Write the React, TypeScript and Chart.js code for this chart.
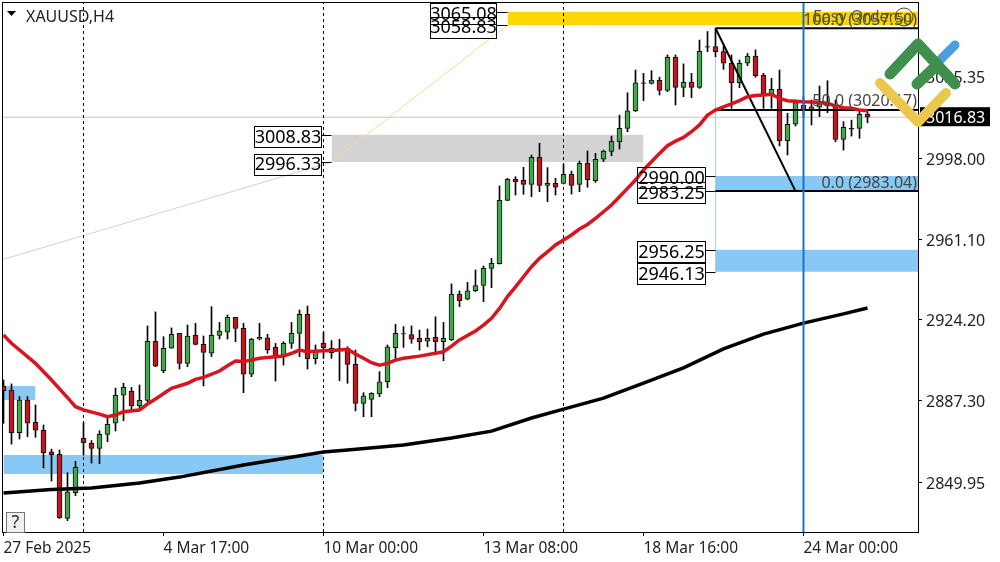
import React, { useEffect, useRef } from "react";
import { Chart, registerables } from "chart.js";

Chart.register(...registerables);

const opens = [
  2893.9, 2892.1, 2872.6, 2887.5, 2877.3, 2873.7, 2863.8, 2862.7, 2833.4, 2845.2,
  2870.0, 2867.7, 2865.4, 2871.8, 2876.9, 2889.7, 2891.5, 2885.0, 2887.4, 2914.4,
  2901.0, 2911.2, 2918.0, 2904.3, 2917.1, 2913.0, 2908.9, 2917.1, 2918.5, 2925.3,
  2920.3, 2899.3, 2915.3, 2916.0, 2911.6, 2907.7, 2913.4, 2918.0, 2926.7, 2906.4,
  2913.4, 2911.2, 2910.4, 2911.2, 2903.8, 2886.0, 2887.8, 2890.3, 2895.9, 2911.5,
  2917.7, 2917.4, 2915.7, 2914.4, 2916.2, 2914.2, 2915.0, 2936.0, 2933.6, 2937.5,
  2939.9, 2947.7, 2949.9, 2978.8, 2988.4, 2988.0, 2986.1, 2998.5, 2985.7, 2986.6,
  2986.6, 2990.7, 2986.1, 2995.7, 2987.8, 2997.6, 3001.2, 3005.6, 3011.7, 3019.8,
  3032.3, 3032.3, 3033.7, 3029.1, 3044.2, 3030.5, 3032.8, 3030.5, 3048.8, 3049.1,
  3046.8, 3041.5, 3032.6, 3041.5, 3044.8, 3036.0, 3027.4, 3029.6, 3006.1, 3013.7,
  3022.3, 3020.4, 3021.4, 3023.8, 3022.0, 3006.7, 3011.4, 3011.7, 3018.1,
];
const closes = [
  2891.8, 2872.6, 2887.5, 2876.9, 2873.7, 2863.5, 2862.5, 2833.8, 2845.6, 2856.8,
  2868.0, 2865.4, 2871.8, 2876.4, 2889.7, 2893.3, 2885.0, 2887.4, 2914.4, 2903.0,
  2911.2, 2917.6, 2904.3, 2916.8, 2913.0, 2909.3, 2917.1, 2919.0, 2925.3, 2920.3,
  2899.3, 2915.3, 2916.2, 2910.5, 2907.7, 2913.4, 2918.0, 2926.7, 2906.4, 2910.4,
  2911.5, 2909.2, 2911.0, 2903.8, 2886.0, 2889.4, 2890.6, 2895.9, 2911.8, 2918.0,
  2917.9, 2915.3, 2914.2, 2915.7, 2914.2, 2915.7, 2936.0, 2933.0, 2937.5, 2939.9,
  2947.7, 2950.0, 2978.8, 2988.4, 2987.4, 2986.1, 2998.5, 2985.7, 2986.6, 2984.8,
  2990.7, 2985.7, 2995.7, 2988.3, 2997.6, 3001.4, 3005.8, 3011.7, 3019.8, 3032.6,
  3032.6, 3033.8, 3029.1, 3044.2, 3030.5, 3032.8, 3030.5, 3046.9, 3049.1, 3046.8,
  3041.5, 3032.6, 3041.5, 3044.8, 3035.7, 3027.4, 3029.6, 3006.1, 3013.6, 3023.5,
  3020.4, 3021.6, 3023.5, 3022.0, 3006.7, 3012.2, 3011.7, 3018.1, 3016.83,
];
const highs = [
  2896.7, 2894.9, 2889.1, 2889.1, 2885.3, 2876.1, 2865.1, 2864.7, 2854.3, 2859.5,
  2877.2, 2869.0, 2873.5, 2879.9, 2893.0, 2895.2, 2893.3, 2894.4, 2921.4, 2927.8,
  2916.5, 2920.5, 2918.0, 2921.8, 2922.6, 2916.8, 2930.2, 2923.0, 2926.4, 2925.3,
  2922.6, 2915.7, 2922.6, 2917.6, 2913.4, 2914.2, 2923.0, 2928.7, 2930.5, 2912.7,
  2918.5, 2914.7, 2915.3, 2911.9, 2910.4, 2890.9, 2890.9, 2900.5, 2912.7, 2922.1,
  2921.1, 2921.4, 2919.5, 2920.0, 2925.6, 2923.0, 2940.6, 2937.4, 2941.3, 2947.0,
  2948.8, 2952.3, 2985.4, 2988.9, 2989.6, 2993.9, 2999.5, 3004.9, 2993.8, 2988.9,
  2995.4, 2992.2, 2996.8, 3001.4, 3000.3, 3001.8, 3008.2, 3017.8, 3028.0, 3038.4,
  3036.9, 3038.1, 3035.1, 3045.3, 3045.3, 3041.2, 3036.9, 3052.1, 3056.0, 3057.5,
  3049.1, 3045.3, 3043.0, 3046.0, 3047.6, 3036.9, 3034.6, 3038.4, 3018.6, 3024.7,
  3026.2, 3024.7, 3031.1, 3033.5, 3024.7, 3014.8, 3015.5, 3020.1, 3019.4,
];
const lows = [
  2876.9, 2867.4, 2869.7, 2870.8, 2870.5, 2856.5, 2850.5, 2833.4, 2832.4, 2843.8,
  2862.4, 2858.7, 2858.4, 2868.5, 2873.4, 2878.1, 2883.0, 2883.0, 2886.8, 2902.8,
  2900.0, 2911.2, 2901.7, 2902.8, 2912.7, 2894.0, 2907.4, 2915.4, 2915.4, 2914.2,
  2890.9, 2898.2, 2915.0, 2908.9, 2896.2, 2903.5, 2911.2, 2907.4, 2901.7, 2904.0,
  2906.6, 2906.6, 2896.4, 2895.2, 2882.6, 2879.9, 2879.9, 2889.1, 2893.2, 2905.8,
  2911.6, 2913.5, 2910.4, 2911.9, 2909.6, 2905.5, 2914.7, 2930.2, 2933.3, 2937.1,
  2932.5, 2938.9, 2949.7, 2978.7, 2981.3, 2981.6, 2980.5, 2982.8, 2978.2, 2981.3,
  2986.3, 2981.7, 2982.8, 2984.8, 2987.0, 2996.5, 2999.2, 3002.3, 3010.2, 3019.4,
  3024.4, 3032.0, 3027.0, 3028.5, 3022.4, 3026.2, 3025.8, 3030.0, 3046.8, 3044.5,
  3038.7, 3020.9, 3030.3, 3040.4, 3035.1, 3020.9, 3020.9, 3003.7, 2999.6, 3012.8,
  3016.8, 3013.3, 3017.1, 3018.9, 3005.6, 3001.8, 3008.2, 3007.2, 3014.3,
];

const redMaIndex = [
  0, 1, 2, 4, 6, 8, 9, 10, 12, 13, 14, 15, 17, 18, 19, 21, 23, 24, 25, 27, 28, 29, 30, 31, 32, 33, 35, 36, 37, 38, 40,
  42, 43, 44, 45, 46, 47, 48, 49, 50, 52, 54, 55, 56, 57, 59, 60, 61, 62, 63, 64, 65, 66, 67, 68, 69, 70, 71, 72, 73,
  74, 75, 76, 77, 78, 79, 80, 81, 82, 83, 84, 85, 86, 87, 88, 89, 90, 91, 92, 93, 94, 95, 96, 97, 98, 99, 100, 101,
  102, 103, 104, 105, 106, 107, 108,
];
const redMaValues = [
  2917.3, 2913.5, 2910.4, 2904.3, 2896.7, 2888.6, 2884.5, 2883.0, 2881.1, 2879.9, 2880.7, 2882.2, 2883.0, 2885.7, 2888.0,
  2892.9, 2895.2, 2897.0, 2897.9, 2900.8, 2903.2, 2905.4, 2905.1, 2905.8, 2906.6, 2907.0, 2907.7, 2908.9, 2910.4, 2909.6, 2910.1,
  2910.4, 2910.7, 2908.6, 2906.6, 2904.6, 2903.5, 2904.3, 2905.8, 2906.6, 2907.6, 2908.9, 2909.6, 2912.2, 2915.0, 2919.1, 2921.8,
  2924.9, 2929.4, 2934.8, 2939.3, 2943.9, 2948.5, 2952.3, 2955.3, 2958.4, 2960.7, 2963.0, 2965.7, 2967.8, 2970.6, 2973.6,
  2976.7, 2980.5, 2984.3, 2988.1, 2992.7, 2996.5, 3000.3, 3003.8, 3005.9, 3007.6, 3010.2, 3013.3, 3017.8, 3020.1, 3021.6, 3022.9,
  3024.4, 3026.2, 3026.8, 3027.0, 3027.3, 3025.4, 3024.4, 3024.1, 3023.9, 3023.8, 3023.6, 3023.2, 3021.9, 3021.2, 3020.9, 3020.1, 3019.8,
];
const blackMaIndex = [0, 6, 11, 17, 22, 30, 40, 43, 50, 56, 61, 66, 70, 75, 80, 85, 90, 95, 100, 105, 108];
const blackMaValues = [
  2845.0, 2846.6, 2847.3, 2849.6, 2852.3, 2857.8, 2863.8, 2864.7, 2867.0, 2870.2, 2873.3, 2879.3, 2883.4, 2888.4, 2895.3,
  2902.2, 2910.9, 2917.7, 2922.7, 2926.9, 2929.6,
];

const xTickIndex = [0, 20, 40, 60, 80, 100];
const xTickLabels = ["27 Feb 2025", "4 Mar 17:00", "10 Mar 00:00", "13 Mar 08:00", "18 Mar 16:00", "24 Mar 00:00"];
const yTickValues = [2849.95, 2887.3, 2924.2, 2961.1, 2998.0, 3035.35];

const lastPrice = 3016.83;
const separatorIndex = [10, 40, 70];
const markerIndex = 100;

// zone rows: start index, end index, top price, bottom price
const zoneRows = [
  [63, 115, 3065.08, 3058.83],
  [41, 80, 3008.83, 2996.33],
  [89, 115, 2990.0, 2983.25],
  [89, 115, 2956.25, 2946.13],
  [0, 40, 2862.4, 2853.7],
  [0, 4, 2894.0, 2887.5],
];
const zoneColors = ["#ffd700", "#d3d3d3", "#87c8f5", "#87c8f5", "#87c8f5", "#87c8f5"];

const fibStartIndex = 89;
const fibLevels = [3057.5, 3020.17, 2983.04];
const fibNames = ["100.0 (3057.50)", "50.0 (3020.17)", "0.0 (2983.04)"];
const fibLowIndex = 99;

const yMin = 2827.2;
const yMax = 3069.5;

const FONT = '"Noto Sans", sans-serif';

const overlayPlugin = {
  id: "overlay",
  afterDraw(chart: any) {
    const { ctx, scales } = chart;
    const x = scales.x;
    const y = scales.y;
    ctx.save();

    // frame
    ctx.strokeStyle = "#000";
    ctx.lineWidth = 1;
    ctx.strokeRect(2.5, 2.5, 916, 530);

    // header
    ctx.fillStyle = "#000";
    ctx.beginPath();
    ctx.moveTo(7, 11);
    ctx.lineTo(16, 11);
    ctx.lineTo(11.5, 16);
    ctx.closePath();
    ctx.fill();
    ctx.fillStyle = "#222";
    ctx.font = `16px ${FONT}`;
    ctx.textAlign = "left";
    ctx.textBaseline = "middle";
    ctx.fillText("XAUUSD,H4", 26, 17);

    // fibo and panel texts
    ctx.textAlign = "right";
    ctx.font = `16px ${FONT}`;
    ctx.fillStyle = "#45453f";
    fibNames.forEach((t, i) => {
      ctx.fillText(t, 917, y.getPixelForValue(fibLevels[i]) - 8);
    });
    ctx.textAlign = "left";
    ctx.fillStyle = "#555";
    ctx.fillText("Easy Order", 813, 17);
    ctx.strokeStyle = "#444";
    ctx.beginPath();
    ctx.arc(904, 17, 9, 0, Math.PI * 2);
    ctx.stroke();
    ctx.textAlign = "center";
    ctx.font = `13px ${FONT}`;
    ctx.fillText("50", 904, 18);

    // price tags with connector ticks (transparent boxes)
    const tag = (value: number, zoneStart: number, left: number, right: number) => {
      const vy = y.getPixelForValue(value);
      const cy = vy + 2;
      ctx.strokeStyle = "#000";
      ctx.lineWidth = 1;
      ctx.beginPath();
      ctx.moveTo(right, Math.round(vy) + 0.5);
      ctx.lineTo(x.getPixelForValue(zoneStart), Math.round(vy) + 0.5);
      ctx.stroke();
      ctx.strokeRect(left + 0.5, Math.round(cy - 10.5) + 0.5, right - left - 1, 21);
      ctx.fillStyle = "#000";
      ctx.font = `18px ${FONT}`;
      ctx.textAlign = "center";
      ctx.textBaseline = "middle";
      ctx.fillText(value.toFixed(2), (left + right) / 2, cy + 1);
    };
    tag(zoneRows[0][2], 63, 430, 497);
    tag(zoneRows[0][3], 63, 430, 497);
    tag(zoneRows[1][2], 41, 254, 322);
    tag(zoneRows[1][3], 41, 254, 322);
    tag(zoneRows[2][2], 89, 637, 706);
    tag(zoneRows[2][3], 89, 637, 706);
    tag(zoneRows[3][2], 89, 637, 706);
    tag(zoneRows[3][3], 89, 637, 706);

    // "?" button
    ctx.fillStyle = "#f0f0f0";
    ctx.strokeStyle = "#777";
    ctx.fillRect(6, 512, 19, 20);
    ctx.strokeRect(6.5, 512.5, 18, 20);
    ctx.fillStyle = "#333";
    ctx.font = `18px ${FONT}`;
    ctx.textAlign = "center";
    ctx.fillText("?", 15.5, 523);

    // last price tag
    const py = y.getPixelForValue(lastPrice);
    ctx.fillStyle = "#000";
    ctx.fillRect(920, py - 10, 70, 19);
    ctx.fillStyle = "#fff";
    ctx.font = `16px ${FONT}`;
    ctx.textAlign = "left";
    ctx.fillText(lastPrice.toFixed(2), 926, py + 1);

    // watermark logo
    ctx.lineCap = "round";
    ctx.lineJoin = "round";
    ctx.lineWidth = 9;
    ctx.strokeStyle = "#4a9fe0";
    ctx.beginPath();
    ctx.moveTo(937, 63);
    ctx.lineTo(955, 45);
    ctx.stroke();
    ctx.lineWidth = 10;
    ctx.strokeStyle = "#ecc74f";
    ctx.beginPath();
    ctx.moveTo(880, 83);
    ctx.lineTo(918, 122);
    ctx.lineTo(946, 93);
    ctx.stroke();
    ctx.lineWidth = 11;
    ctx.strokeStyle = "#3f8f4f";
    ctx.beginPath();
    ctx.moveTo(890, 74);
    ctx.lineTo(918, 44);
    ctx.lineTo(955, 84);
    ctx.stroke();
    ctx.beginPath();
    ctx.moveTo(917, 84);
    ctx.lineTo(935, 67);
    ctx.stroke();

    ctx.restore();
  },
};

export default function App() {
  const ref = useRef<HTMLCanvasElement>(null);

  useEffect(() => {
    if (!ref.current) return;
    const index = opens.map((_, i) => i);
    const line = (data: any[], color: string, width: number, order: number, extra: any = {}) => ({
      type: "line",
      data,
      borderColor: color,
      backgroundColor: color,
      borderWidth: width,
      pointRadius: 0,
      tension: 0,
      fill: false,
      order,
      ...extra,
    });

    const zoneSets = zoneRows.map((z, i) =>
      line(
        [
          { x: z[0], y: z[2] },
          { x: z[1], y: z[2] },
        ],
        zoneColors[i],
        0,
        30,
        { fill: { value: z[3] }, backgroundColor: zoneColors[i] }
      )
    );

    const chart = new Chart(ref.current, {
      type: "bar",
      data: {
        datasets: [
          ...zoneSets,
          line(
            [
              { x: -1, y: lastPrice },
              { x: 115, y: lastPrice },
            ],
            "#c4c4c4",
            1,
            29
          ),
          line(
            [
              { x: 0, y: 2951.9 },
              { x: 41, y: zoneRows[1][3] },
            ],
            "#d2d2d2",
            1,
            28
          ),
          line(
            [
              { x: 41, y: zoneRows[1][3] },
              { x: 63, y: zoneRows[0][3] },
            ],
            "#f3dc92",
            1,
            28
          ),
          ...separatorIndex.map((s) =>
            line(
              [
                { x: s, y: yMin },
                { x: s, y: yMax },
              ],
              "#000",
              1,
              27,
              { borderDash: [3, 3] }
            )
          ),
          line(
            [
              { x: fibStartIndex, y: fibLevels[0] },
              { x: fibStartIndex, y: zoneRows[3][3] },
            ],
            "#9fd0ef",
            1,
            26
          ),
          {
            type: "bar",
            label: "wicks",
            data: index.map((i) => ({ x: i, y: [lows[i], highs[i]] })),
            backgroundColor: "#000",
            barThickness: 1,
            grouped: false,
            order: 20,
          },
          {
            type: "bar",
            label: "bodies",
            data: index.map((i) => ({ x: i, y: [opens[i], closes[i]] })),
            backgroundColor: index.map((i) =>
              Math.abs(opens[i] - closes[i]) < 0.5 ? "#222" : closes[i] >= opens[i] ? "#3fa64a" : "#c8141c"
            ),
            borderColor: "#111",
            borderWidth: 1,
            borderSkipped: false,
            barThickness: 5,
            grouped: false,
            order: 19,
          },
          ...fibLevels.map((lv) =>
            line(
              [
                { x: fibStartIndex, y: lv },
                { x: 115, y: lv },
              ],
              "#000",
              2,
              12
            )
          ),
          line(
            [
              { x: fibStartIndex, y: fibLevels[0] },
              { x: fibLowIndex, y: fibLevels[2] },
            ],
            "#000",
            2,
            11
          ),
          line(
            blackMaIndex.map((v, i) => ({ x: v, y: blackMaValues[i] })),
            "#000",
            3.5,
            6
          ),
          line(
            redMaIndex.map((v, i) => ({ x: v, y: redMaValues[i] })),
            "#d8151f",
            3.5,
            5
          ),
          line(
            [
              { x: markerIndex, y: yMin },
              { x: markerIndex, y: yMax },
            ],
            "#1a72c4",
            2,
            4
          ),
        ] as any,
      },
      options: {
        responsive: false,
        animation: false,
        layout: { padding: { top: 2, left: 2, right: 0, bottom: 0 } },
        plugins: { legend: { display: false }, tooltip: { enabled: false } },
        scales: {
          x: {
            type: "linear",
            offset: false,
            min: -0.1875,
            max: 114.3125,
            grid: { display: true, offset: false, drawOnChartArea: false, drawTicks: true, tickLength: 4, color: "#000" },
            border: { display: false },
            afterBuildTicks: (s: any) => {
              s.ticks = xTickIndex.map((value) => ({ value }));
            },
            afterFit: (s: any) => {
              s.height = 30;
              s.paddingLeft = 0;
              s.paddingRight = 0;
            },
            ticks: {
              autoSkip: false,
              maxRotation: 0,
              align: "start",
              padding: 3,
              color: "#222",
              font: { family: FONT, size: 15.5 },
              callback: (v: any) => xTickLabels[xTickIndex.indexOf(Number(v))],
            },
          },
          y: {
            type: "linear",
            position: "right",
            min: yMin,
            max: yMax,
            grid: { display: true, drawOnChartArea: false, drawTicks: true, tickLength: 4, color: "#000" },
            border: { display: false },
            afterBuildTicks: (s: any) => {
              s.ticks = yTickValues.map((value) => ({ value }));
            },
            afterFit: (s: any) => {
              s.width = 82;
              s.paddingTop = 0;
              s.paddingBottom = 0;
            },
            ticks: {
              autoSkip: false,
              padding: 4,
              color: "#222",
              // a blank first line at a 4px line height drops the label 2px onto its tick
              font: { family: FONT, size: 16, lineHeight: "4px" },
              callback: (v: any) => ["", Number(v).toFixed(2)],
            },
          },
        },
      } as any,
      plugins: [overlayPlugin],
    });
    return () => chart.destroy();
  }, []);

  return (
    <div style={{ position: "absolute", left: 0, top: 0, width: 1000, height: 562, background: "#fff" }}>
      <canvas ref={ref} width={1000} height={562} style={{ display: "block" }} />
    </div>
  );
}
